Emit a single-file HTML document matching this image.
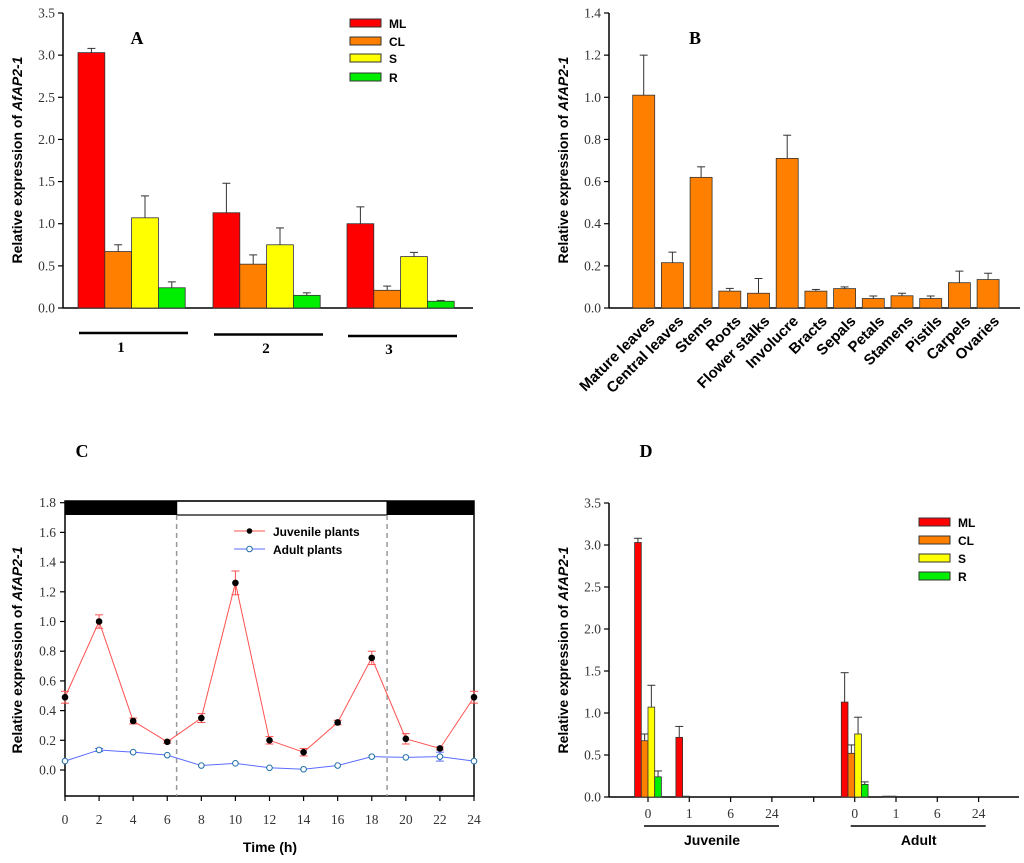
<!DOCTYPE html>
<html><head><meta charset="utf-8"><style>
html,body{margin:0;padding:0;background:#fff;}
svg{display:block;}
.tk{font-family:"Liberation Serif",serif;font-size:13.5px;fill:#333;}
.yt{font-family:"Liberation Sans",sans-serif;font-size:14px;font-weight:bold;fill:#000;}
.lg{font-family:"Liberation Sans",sans-serif;font-size:12px;font-weight:bold;fill:#000;}
.pl{font-family:"Liberation Serif",serif;font-size:18px;font-weight:bold;fill:#000;}
</style></head><body>
<svg id="fig" width="1024" height="863" viewBox="0 0 1024 863" xmlns="http://www.w3.org/2000/svg"></svg>
<script>
// ---- Panel A data ----
const aGroups = ['1','2','3'];
const aSeries = ['ML','CL','S','R'];
const aML = [3.03, 1.13, 1.00];
const aCL = [0.67, 0.52, 0.21];
const aS  = [1.07, 0.75, 0.61];
const aR  = [0.24, 0.15, 0.08];
const aMLe = [0.05, 0.35, 0.20];
const aCLe = [0.08, 0.11, 0.05];
const aSe  = [0.26, 0.20, 0.05];
const aRe  = [0.07, 0.03, 0.01];
const aTicks = ['0.0','0.5','1.0','1.5','2.0','2.5','3.0','3.5'];
// ---- Panel B data ----
const bCats = ['Mature leaves','Central leaves','Stems','Roots','Flower stalks','Involucre','Bracts','Sepals','Petals','Stamens','Pistils','Carpels','Ovaries'];
const bVals = [1.01, 0.215, 0.62, 0.08, 0.07, 0.71, 0.08, 0.092, 0.045, 0.058, 0.045, 0.12, 0.135];
const bErr  = [0.19, 0.05, 0.05, 0.013, 0.07, 0.11, 0.008, 0.008, 0.012, 0.012, 0.012, 0.055, 0.03];
const bTicks = ['0.0','0.2','0.4','0.6','0.8','1.0','1.2','1.4'];
// ---- Panel C data ----
const cTimes = [0,2,4,6,8,10,12,14,16,18,20,22,24];
const cJuv = [0.49, 1.00, 0.33, 0.19, 0.35, 1.26, 0.20, 0.12, 0.32, 0.755, 0.21, 0.145, 0.49];
const cJuvE = [0.04, 0.045, 0.02, 0.01, 0.03, 0.08, 0.025, 0.025, 0.015, 0.045, 0.035, 0.01, 0.04];
const cAd = [0.06, 0.135, 0.12, 0.10, 0.03, 0.045, 0.015, 0.005, 0.03, 0.09, 0.085, 0.09, 0.06];
const cAdE = [0.005, 0.01, 0.005, 0.005, 0.005, 0.005, 0.005, 0.005, 0.005, 0.005, 0.005, 0.03, 0.005];
const cYTicks = ['0.0','0.2','0.4','0.6','0.8','1.0','1.2','1.4','1.6','1.8'];
// ---- Panel D data ----
const dTimes = ['0','1','6','24'];
const dStages = ['Juvenile','Adult'];
const dJuvML = [3.03, 0.71, 0, 0];
const dJuvCL = [0.67, 0.01, 0, 0];
const dJuvS  = [1.07, 0, 0, 0];
const dJuvR  = [0.24, 0, 0, 0];
const dAdML = [1.13, 0.01, 0, 0];
const dAdCL = [0.52, 0.01, 0, 0];
const dAdS  = [0.75, 0, 0, 0];
const dAdR  = [0.15, 0, 0, 0];
const dJuvMLe = [0.05, 0.13, 0, 0];
const dJuvCLe = [0.08, 0, 0, 0];
const dJuvSe  = [0.26, 0, 0, 0];
const dJuvRe  = [0.07, 0, 0, 0];
const dAdMLe = [0.35, 0, 0, 0];
const dAdCLe = [0.10, 0, 0, 0];
const dAdSe  = [0.20, 0, 0, 0];
const dAdRe  = [0.03, 0, 0, 0];
const dTicks = ['0.0','0.5','1.0','1.5','2.0','2.5','3.0','3.5'];

const colors = ['#ff0000','#ff8000','#ffff00','#00ee00'];
const NS = 'http://www.w3.org/2000/svg';
const svg = document.getElementById('fig');
function mk(tag, attrs, parent, text){
  const e = document.createElementNS(NS, tag);
  for (const k in attrs) e.setAttribute(k, attrs[k]);
  if (text !== undefined) e.textContent = text;
  (parent||svg).appendChild(e);
  return e;
}
function grp(name){
  const g = mk('g', {});
  
  
  return g;
}
function line(g,x1,y1,x2,y2,stroke,w,extra){
  const a = Object.assign({x1,y1,x2,y2,stroke,'stroke-width':w}, extra||{});
  return mk('line', a, g);
}
function yAxis(g, x, yfn, ticks, step){
  line(g, x, yfn(0), x, yfn(step*(ticks.length-1)), '#000', 1.5);
  ticks.forEach((t,i)=>{
    const y = yfn(i*step);
    line(g, x-5, y, x, y, '#000', 1.2);
    const tx = mk('text', {x:x-8, y:y+4.5, 'text-anchor':'end', class:'tk'}, g, t);
    
    
  });
}
function bar(g, x, w, v, e, col, yfn, name){
  const y0 = yfn(0), y1 = yfn(v);
  const r = mk('rect', {x:x, y:y1, width:w, height:Math.max(0,y0-y1), fill:col, stroke:'#333', 'stroke-width':0.8}, g);
  
  
  if (e > 0){
    const cx = x + w/2, ye = yfn(v+e);
    line(g, cx, y1, cx, ye, '#333', 1);
    line(g, cx-4, ye, cx+4, ye, '#333', 1);
  }
}
function yTitle(g, x, y, parts){
  const t = mk('text', {transform:`translate(${x},${y}) rotate(-90)`, 'text-anchor':'middle', class:'yt'}, g);
  
  
  parts.forEach(p=>{ mk('tspan', p[1]?{'font-style':'italic'}:{}, t, p[0]); });
}
function legendBars(g, x, ys, tx){
  aSeries.forEach((s,i)=>{
    const r = mk('rect', {x:x, y:ys[i]-4, width:31, height:8, fill:colors[i], stroke:'#333', 'stroke-width':1}, g);
    
    
    const t = mk('text', {x:tx, y:ys[i]+5, class:'lg'}, g, s);
    
    
  });
}
const titleParts = [['Relative expression of ',false],['AfAP2-1',true]];

// ===== Panel A =====
(function(){
  const g = grp('panel-a');
  const yA = v => 308 - v*(295/3.5);
  yAxis(g, 63, yA, aTicks, 0.5);
  line(g, 63, 308, 473, 308, '#000', 1.5);
  const starts = [78, 213, 347], bw = 26.8;
  const vals = [aML,aCL,aS,aR], errs=[aMLe,aCLe,aSe,aRe];
  aGroups.forEach((gname,gi)=>{
    vals.forEach((arr,si)=>{
      bar(g, starts[gi]+si*bw, bw, arr[gi], errs[si][gi], colors[si], yA, 'bar-'+aSeries[si].toLowerCase()+'-group'+gname);
    });
    const lx = starts[gi]+1, ly = 333 + gi*1.5;
    line(g, lx, ly, lx+109, ly, '#000', 2.5);
    const t = mk('text', {x:starts[gi]+[43,53,42][gi], y:352+gi, 'text-anchor':'middle', 'font-family':'Liberation Serif,serif', 'font-size':'15', 'font-weight':'bold'}, g, gname);
    
    
  });
  mk('text', {x:137, y:44, 'text-anchor':'middle', class:'pl'}, g, 'A');
  legendBars(g, 350, [23,41,58,77], 389);
  yTitle(g, 22, 160, titleParts);
})();

// ===== Panel B =====
(function(){
  const g = grp('panel-b');
  const yB = v => 308 - v*(295/1.4);
  yAxis(g, 609, yB, bTicks, 0.2);
  line(g, 609, 308, 1020, 308, '#000', 1.5);
  const bw = 22, step = 28.7, c0 = 643.7;
  bCats.forEach((c,i)=>{
    const cx = c0 + i*step;
    bar(g, cx-bw/2, bw, bVals[i], bErr[i], '#ff8000', yB, 'bar-'+c.toLowerCase().replace(/ /g,'-'));
    const t = mk('text', {transform:`translate(${cx+12},${322}) rotate(-45)`, 'text-anchor':'end', 'font-family':'Liberation Sans,sans-serif', 'font-size':'15', 'font-weight':'bold'}, g, c);
    
    
  });
  mk('text', {x:695, y:44, 'text-anchor':'middle', class:'pl'}, g, 'B');
  yTitle(g, 568, 160, titleParts);
})();

// ===== Panel C =====
(function(){
  const g = grp('panel-c');
  const xC = t => 65 + t*(409/24);
  const yC = v => 770 - v*(267.3/1.8);
  const b1 = mk('rect', {x:65, y:501, width:xC(6.55)-65, height:14, fill:'#000'}, g);
   
  const b2 = mk('rect', {x:xC(6.55), y:501, width:xC(18.9)-xC(6.55), height:14, fill:'#fff', stroke:'#000', 'stroke-width':1.2}, g);
   
  const b3 = mk('rect', {x:xC(18.9), y:501, width:474-xC(18.9), height:14, fill:'#000'}, g);
   
  mk('rect', {x:65, y:501, width:409, height:295, fill:'none', stroke:'#000', 'stroke-width':1.5}, g);
  [6.55,18.9].forEach(t=>line(g, xC(t), 515, xC(t), 796, '#999', 1.5, {'stroke-dasharray':'5,4'}));
  cYTicks.forEach((t,i)=>{
    const y = yC(i*0.2);
    line(g, 60, y, 65, y, '#000', 1.2);
    const tx = mk('text', {x:56, y:y+4.5, 'text-anchor':'end', class:'tk'}, g, t);
     
  });
  cTimes.forEach(t=>{
    line(g, xC(t), 796, xC(t), 801, '#000', 1.2);
    const tx = mk('text', {x:xC(t), y:824, 'text-anchor':'middle', class:'tk'}, g, String(t));
     
  });
  function series(vals, errs, col, fill, name, r){
    const pts = vals.map((v,i)=>xC(cTimes[i])+','+yC(v)).join(' ');
    const pl = mk('polyline', {points:pts, fill:'none', stroke:col, 'stroke-width':1}, g);
     
    vals.forEach((v,i)=>{
      const x = xC(cTimes[i]);
      if (errs[i] > 0.008){
        line(g, x, yC(v-errs[i]), x, yC(v+errs[i]), col, 1);
        line(g, x-4, yC(v+errs[i]), x+4, yC(v+errs[i]), col, 1);
        line(g, x-4, yC(v-errs[i]), x+4, yC(v-errs[i]), col, 1);
      }
      const c = mk('circle', {cx:x, cy:yC(v), r:r, fill:fill, stroke:col==='#ff5050'?'#000':'#1f6fa8', 'stroke-width':1}, g);
       
    });
  }
  series(cAd, cAdE, '#5a6cff', '#fff', 'adult', 2.8);
  series(cJuv, cJuvE, '#ff5050', '#000', 'juvenile', 2.8);
  line(g, 234, 531, 265, 531, '#ff5050', 1);
  mk('circle', {cx:249.5, cy:531, r:2.8, fill:'#000'}, g);
  line(g, 234, 549, 265, 549, '#5a6cff', 1);
  mk('circle', {cx:249.5, cy:549, r:2.8, fill:'#fff', stroke:'#1f6fa8'}, g);
  const l1 = mk('text', {x:273, y:536, class:'lg', 'font-size':'12.5'}, g, 'Juvenile plants');
   
  const l2 = mk('text', {x:273, y:554, class:'lg', 'font-size':'12.5'}, g, 'Adult plants');
   
  const xt = mk('text', {x:270, y:852, 'text-anchor':'middle', class:'yt'}, g, 'Time (h)');
   
  mk('text', {x:82, y:457, 'text-anchor':'middle', class:'pl'}, g, 'C');
  yTitle(g, 22, 650, titleParts);
})();

// ===== Panel D =====
(function(){
  const g = grp('panel-d');
  const yD = v => 797 - v*(294/3.5);
  yAxis(g, 609, yD, dTicks, 0.5);
  line(g, 609, 797, 1019, 797, '#000', 1.5);
  const base = [648, 854.7], step = 41.3, bw = 6.7;
  const sets = [[dJuvML,dJuvCL,dJuvS,dJuvR],[dAdML,dAdCL,dAdS,dAdR]];
  const errSets = [[dJuvMLe,dJuvCLe,dJuvSe,dJuvRe],[dAdMLe,dAdCLe,dAdSe,dAdRe]];
  line(g, 813.7, 797, 813.7, 802, '#000', 1.2);
  dStages.forEach((st,si)=>{
    dTimes.forEach((t,ti)=>{
      const cx = base[si] + ti*step;
      line(g, cx, 797, cx, 802, '#000', 1.2);
      const tx = mk('text', {x:cx, y:818, 'text-anchor':'middle', class:'tk'}, g, t);
       
      sets[si].forEach((arr,k)=>{
        if (arr[ti] > 0) bar(g, cx-13.4+k*bw, bw, arr[ti], errSets[si][k][ti], colors[k], yD, 'bar-'+st.toLowerCase()+'-'+aSeries[k].toLowerCase()+'-t'+t);
      });
    });
    const lx = base[si]-4;
    line(g, lx, 826, lx+135, 826, '#000', 1.5);
    const sl = mk('text', {x:lx+68, y:845, 'text-anchor':'middle', class:'yt'}, g, st);
     
  });
  mk('text', {x:646, y:457, 'text-anchor':'middle', class:'pl'}, g, 'D');
  legendBars(g, 919, [522,540,558,576], 958);
  yTitle(g, 568, 650, titleParts);
})();
</script>
</body></html>
